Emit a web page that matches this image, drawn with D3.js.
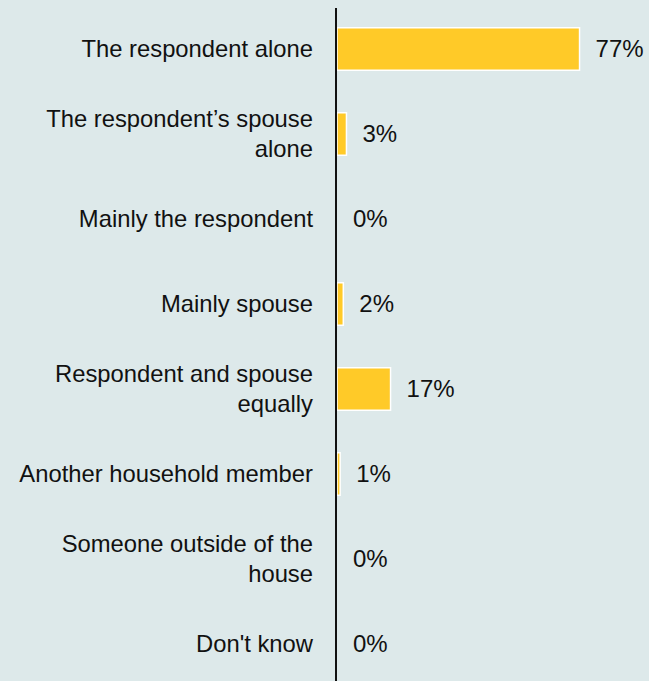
<!DOCTYPE html>
<html>
<head>
<meta charset="utf-8">
<script src="https://cdn.jsdelivr.net/npm/d3@7"></script>
<style>
  html, body { margin: 0; padding: 0; background: #dde9ea; }
  svg { display: block; }
</style>
</head>
<body>
<script>
// Who makes the decision — share of responses
const categories = [
  ["The respondent alone"],
  ["The respondent\u2019s spouse", "alone"],
  ["Mainly the respondent"],
  ["Mainly spouse"],
  ["Respondent and spouse", "equally"],
  ["Another household member"],
  ["Someone outside of the", "house"],
  ["Don't know"]
];
const values = [77, 3, 0, 2, 17, 1, 0, 0];

const width = 649, height = 681;
const axisX = 337;
const font = "Liberation Sans, Arial, Helvetica, sans-serif";

const rowsData = values.map((v, i) => ({ i, v, lines: categories[i] }));

const svg = d3.select("body").append("svg")
  .attr("width", width).attr("height", height);

svg.append("rect").attr("width", width).attr("height", height).attr("fill", "#dde9ea");

const x = d3.scaleLinear().domain([0, 100]).range([axisX, axisX + 315]);
const y = d3.scaleBand().domain(d3.range(values.length))
  .range([6.5, 686.5]).paddingInner(0.5).paddingOuter(0.25);

const rows = svg.selectAll("g.row").data(rowsData).enter().append("g").attr("class", "row");

rows.filter(d => d.v > 0).append("rect")
  .attr("x", x(0))
  .attr("y", d => y(d.i))
  .attr("width", d => x(d.v) - x(0))
  .attr("height", y.bandwidth())
  .attr("fill", "#ffca28")
  .attr("stroke", "#ffffff")
  .attr("stroke-width", 1.5);

// category labels, right aligned against the axis
rows.append("text")
  .attr("text-anchor", "end")
  .attr("font-family", font)
  .attr("font-size", 23.8)
  .attr("fill", "#111")
  .each(function(d) {
    const cy = y(d.i) + y.bandwidth() / 2;
    const lh = 30;
    const t = d3.select(this);
    d.lines.forEach((ln, k) => {
      t.append("tspan")
        .attr("x", 313)
        .attr("y", cy + (k - (d.lines.length - 1) / 2) * lh)
        .attr("dy", "0.35em")
        .text(ln);
    });
  });

// value labels after each bar
rows.append("text")
  .attr("x", d => x(d.v) + 16)
  .attr("y", d => y(d.i) + y.bandwidth() / 2)
  .attr("dy", "0.35em")
  .attr("font-family", font)
  .attr("font-size", 24)
  .attr("fill", "#111")
  .text(d => d.v + "%");

// vertical baseline
svg.append("line")
  .attr("x1", axisX - 1).attr("x2", axisX - 1)
  .attr("y1", 8).attr("y2", height)
  .attr("stroke", "#111").attr("stroke-width", 2);
</script>
</body>
</html>
